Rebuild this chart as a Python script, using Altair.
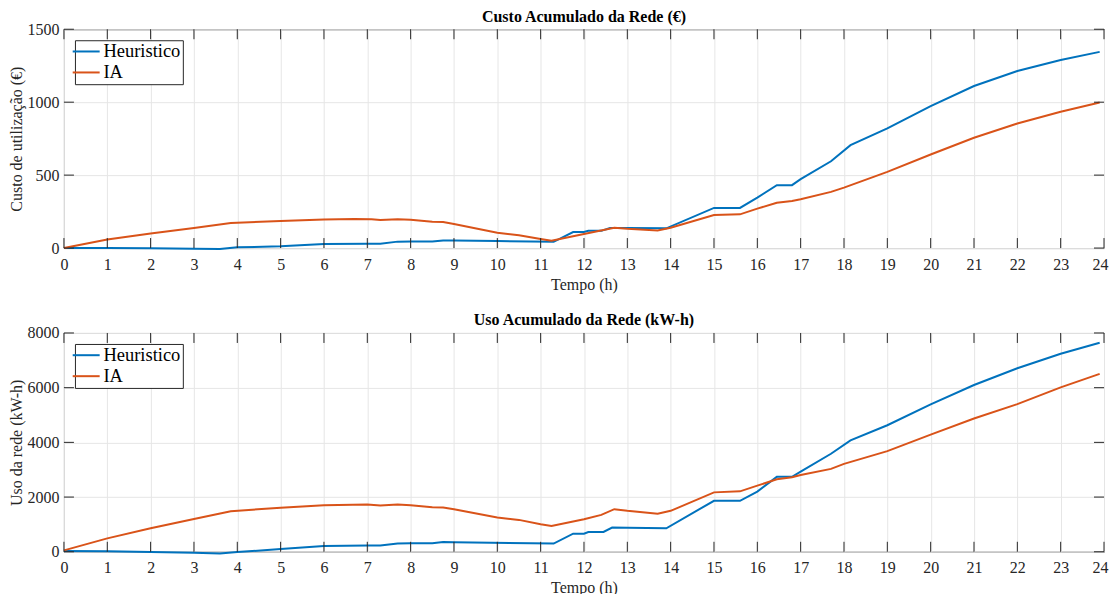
import altair as alt
import pandas as pd

# ---- Data ----
series_names = ["Heuristico", "IA"]

cost_heur_h = [0, 1, 2, 3, 3.6, 4, 5, 6, 7, 7.3, 7.7, 8, 8.5, 8.75, 9, 10, 11.3, 11.75, 12, 12.1, 12.4, 12.6, 13, 13.9,
               15, 15.6, 16, 16.45, 16.8, 17, 17.7, 18.15, 19, 20, 21, 22, 23, 23.9]
cost_heur_v = [0, 0, -2, -5, -7, 5, 12, 27, 30, 30, 44, 45, 45, 52, 52, 48, 43, 110, 110, 118, 118, 137, 137, 135,
               275, 275, 346, 431, 431, 472, 595, 705, 820, 973, 1111, 1214, 1289, 1345]

cost_ia_h = [0, 1, 2, 3, 3.85, 5, 6, 6.7, 7.1, 7.3, 7.7, 8, 8.5, 8.75, 9, 10, 10.5, 11, 11.25, 12, 12.7, 13, 13.7, 14,
             15, 15.6, 16, 16.45, 16.8, 17, 17.7, 18, 19, 20, 21, 22, 23, 23.9]
cost_ia_v = [0, 58, 100, 138, 172, 185, 196, 199, 198, 192, 198, 194, 180, 178, 165, 105, 88, 62, 50, 96, 139, 132, 121, 139,
             226, 231, 270, 311, 323, 334, 385, 414, 522, 641, 756, 854, 934, 998]

use_heur_h = [0, 1, 2, 3, 3.6, 4, 5, 6, 7, 7.3, 7.7, 8, 8.5, 8.75, 9, 11.3, 11.75, 12, 12.1, 12.45, 12.65, 13, 13.9,
              15, 15.6, 16, 16.45, 16.8, 17, 17.7, 18.15, 19, 20, 21, 22, 23, 23.9]
use_heur_v = [25, 20, -10, -35, -60, -12, 98, 209, 233, 233, 300, 310, 310, 356, 350, 300, 663, 663, 724, 724, 883, 880, 860,
              1865, 1865, 2200, 2740, 2740, 2933, 3583, 4074, 4626, 5387, 6098, 6712, 7239, 7640]

use_ia_h = [0, 1, 2, 3, 3.85, 5, 6, 7, 7.3, 7.7, 8, 8.5, 8.75, 9, 10, 10.5, 11, 11.25, 12, 12.4, 12.7, 13, 13.7, 14,
            15, 15.6, 16, 16.45, 16.8, 17, 17.7, 18, 19, 20, 21, 22, 23, 23.9]
use_ia_v = [50, 490, 860, 1200, 1485, 1607, 1705, 1730, 1693, 1730, 1700, 1632, 1620, 1558, 1251, 1166, 1006, 945, 1190, 1350,
            1558, 1497, 1387, 1497, 2172, 2209, 2417, 2650, 2724, 2810, 3031, 3215, 3681, 4282, 4871, 5399, 6012, 6503]

x_ticks = list(range(0, 25))
cost_ticks = [0, 500, 1000, 1500]
use_ticks = [0, 2000, 4000, 6000, 8000]

FONT = "Liberation Serif, Times New Roman, serif"
DARK = "#262626"
W, H = 1041, 219
TL = 10  # inside tick length


def panel(h1, v1, h2, v2, title, ytitle, ymax, yticks):
    df = pd.concat([
        pd.DataFrame({"h": h1, "v": v1, "s": series_names[0]}),
        pd.DataFrame({"h": h2, "v": v2, "s": series_names[1]}),
    ], ignore_index=True)
    xs = alt.Scale(domain=[0, 24], nice=False, zero=False)
    ys = alt.Scale(domain=[0, ymax], nice=False, zero=False)

    lines = alt.Chart(df).mark_line(strokeWidth=2).encode(
        x=alt.X("h:Q", scale=xs, axis=alt.Axis(
            values=x_ticks, title="Tempo (h)", grid=True, ticks=False, domain=False,
            labelPadding=8, labelFont=FONT, labelFontSize=16, labelColor=DARK,
            labelFlush=True, labelFlushOffset=4,
            titleFont=FONT, titleFontSize=16, titleFontWeight="normal", titleColor=DARK,
            titlePadding=4, gridColor="#e6e6e6", gridWidth=1)),
        y=alt.Y("v:Q", scale=ys, axis=alt.Axis(
            values=yticks, title=ytitle, grid=True, ticks=False, domain=False,
            labelPadding=5, labelFont=FONT, labelFontSize=16, labelColor=DARK,
            titleFont=FONT, titleFontSize=16, titleFontWeight="normal", titleColor=DARK,
            titlePadding=2, gridColor="#e6e6e6", gridWidth=1, format="d")),
        color=alt.Color("s:N", scale=alt.Scale(domain=series_names, range=["#0072BD", "#D95319"]),
                        legend=alt.Legend(
                            title=None, orient="top-left", offset=11, strokeColor=DARK, fillColor="white",
                            padding=2, symbolType="M-2,0H2", symbolSize=182, symbolStrokeWidth=2,
                            labelFont=FONT, labelFontSize=18.5, labelColor="#000000", labelOffset=8,
                            rowPadding=2, cornerRadius=0)),
    )

    xt = pd.DataFrame({"h": x_ticks})
    yt = pd.DataFrame({"v": yticks})
    rule = dict(color=DARK, strokeWidth=1)
    xbot = alt.Chart(xt).mark_rule(**rule).encode(x=alt.X("h:Q", scale=xs), y=alt.value(H), y2=alt.value(H - TL))
    xtop = alt.Chart(xt).mark_rule(**rule).encode(x=alt.X("h:Q", scale=xs), y=alt.value(0), y2=alt.value(TL))
    yleft = alt.Chart(yt).mark_rule(**rule).encode(y=alt.Y("v:Q", scale=ys), x=alt.value(0), x2=alt.value(TL))
    yright = alt.Chart(yt).mark_rule(**rule).encode(y=alt.Y("v:Q", scale=ys), x=alt.value(W), x2=alt.value(W - TL))

    return alt.layer(lines, xbot, xtop, yleft, yright).properties(
        width=W, height=H,
        title=alt.TitleParams(title, font=FONT, fontSize=16, fontWeight="bold", color="#000000", offset=-3.5),
    )


top = panel(cost_heur_h, cost_heur_v, cost_ia_h, cost_ia_v,
            "Custo Acumulado da Rede (€)", "Custo de utilização (€)", 1500, cost_ticks)
bottom = panel(use_heur_h, use_heur_v, use_ia_h, use_ia_v,
               "Uso Acumulado da Rede (kW-h)", "Uso da rede (kW-h)", 8000, use_ticks)

chart = alt.vconcat(top, bottom, spacing=19).resolve_scale(color="independent").configure_view(
    stroke=DARK, strokeWidth=1
).properties(padding={"left": 0, "top": 0, "right": 0, "bottom": 0})

chart.save("out.html", embed_options={"renderer": "svg", "actions": False})
